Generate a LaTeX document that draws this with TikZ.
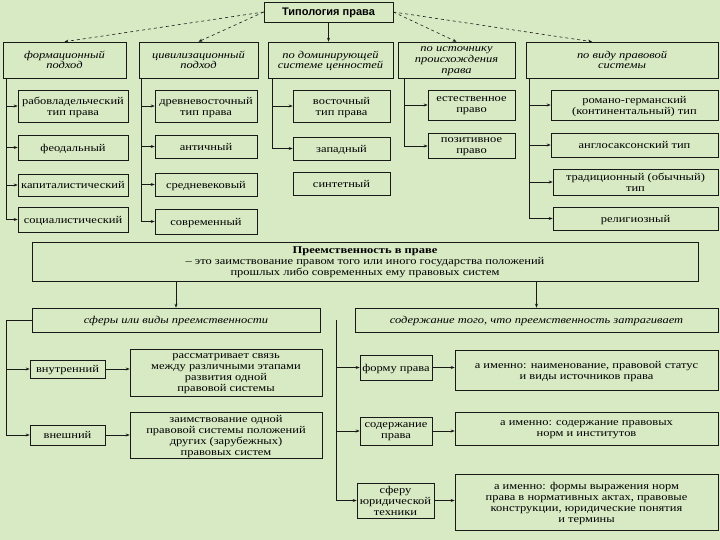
\documentclass[tikz,border=0pt]{standalone}
\usepackage{fontspec}
\setmainfont[FakeStretch=1.2]{Liberation Serif}
\setsansfont{Liberation Sans}
\usetikzlibrary{arrows.meta}
\definecolor{bg}{RGB}{216,234,196}
\definecolor{ink}{RGB}{25,25,25}
\begin{document}
\begin{tikzpicture}[
  x=1pt, y=-1pt, line width=0.6pt, draw=ink,
  >={Stealth[length=4pt,width=3pt]},
  bx/.style 2 args={draw=ink, align=center, inner sep=1pt, text depth=0pt, minimum width=#1, minimum height=#2, font=\fontsize{10.4}{11}\selectfont},
  hdr/.style 2 args={bx={#1}{#2}, font=\fontsize{10.4}{10.6}\selectfont\itshape},
  ttl/.style={draw=ink, text depth=0pt, minimum width=129, minimum height=20, font=\sffamily\bfseries\fontsize{11}{12}\selectfont}
]
  \fill[bg] (0,0) rectangle (720,540);
  \useasboundingbox (0,0) rectangle (720,540);

  \node[ttl] (tip) at (328.5,12) {Типология права};
  \node[hdr={123}{36}] (form) at (64.5,60) {формационный\\подход};
  \node[hdr={119}{36}] (civ) at (198.5,60) {цивилизационный\\подход};
  \node[hdr={125}{36}] (dom) at (330.5,60) {по доминирующей\\системе ценностей};
  \node[hdr={117}{36}] (ist) at (456.5,60) {по источнику\\происхождения\\права};
  \node[hdr={192}{36}] (vid) at (622,60) {по виду правовой\\системы};
  \draw[->, dashed] (tip.west) -- (form.north);
  \draw[->, dashed] (tip.west) -- (civ.north);
  \draw[->] (tip.south) -- (tip.south |- dom.north);
  \draw[->, dashed] (tip.east) -- (ist.north);
  \draw[->, dashed] (tip.east) -- ([xshift=-30pt]vid.north);

  \node[bx={110}{32}] (rab) at (73,106) {рабовладельческий\\тип права};
  \node[bx={110}{25}] (feo) at (73,147.5) {феодальный};
  \node[bx={110}{22}] (kap) at (73,185) {капиталистический};
  \node[bx={110}{25}] (soc) at (73,219.5) {социалистический};
  \coordinate (bf) at ([xshift=4pt]form.south west);
  \foreach \n in {rab,feo,kap,soc} \draw[->] (bf) |- (\n.west);

  \node[bx={102}{32}] (drev) at (206,106) {древневосточный\\тип права};
  \node[bx={102}{23}] (ant) at (206,146.5) {античный};
  \node[bx={102}{23}] (sred) at (206,184.5) {средневековый};
  \node[bx={102}{25}] (sovr) at (206,221.5) {современный};
  \coordinate (bc) at ([xshift=3pt]civ.south west);
  \foreach \n in {drev,ant,sred,sovr} \draw[->] (bc) |- (\n.west);

  \node[bx={97}{32}] (vost) at (341.5,106) {восточный\\тип права};
  \node[bx={97}{23}] (zap) at (341.5,148.5) {западный};
  \node[bx={97}{23}] (sint) at (341.5,183.5) {синтетный};
  \coordinate (bd) at ([xshift=5pt]dom.south west);
  \foreach \n in {vost,zap} \draw[->] (bd) |- (\n.west);

  \node[bx={87}{30}] (est) at (471.5,105) {естественное\\право};
  \node[bx={87}{25}] (poz) at (471.5,146) {позитивное\\право};
  \coordinate (bi) at ([xshift=7pt]ist.south west);
  \foreach \n in {est,poz} \draw[->] (bi) |- (\n.west);

  \node[bx={167}{30}] (rom) at (634.5,105) {романо-германский\\(континентальный) тип};
  \node[bx={167}{24}] (angl) at (634.5,145) {англосаксонский тип};
  \node[bx={165}{26}] (trad) at (635.5,182) {традиционный (обычный)\\тип};
  \node[bx={165}{23}] (rel) at (635.5,218.5) {религиозный};
  \coordinate (bv) at ([xshift=4pt]vid.south west);
  \foreach \n in {rom,angl,trad,rel} \draw[->] (bv) |- (\n.west);

  \node[bx={666}{39}] (pr) at (365,261.5) {\textbf{Преемственность в праве}\\– это заимствование правом того или иного государства положений\\прошлых либо современных ему правовых систем};
  \node[hdr={288}{24}] (sf) at (176,320) {сферы или виды преемственности};
  \node[hdr={363}{24}] (sd) at (536.5,320) {содержание того, что преемственность затрагивает};
  \draw[->] (pr.south -| sf.north) -- (sf.north);
  \draw[->] (pr.south -| sd.north) -- (sd.north);

  \node[bx={75}{18}] (vn) at (67.5,369) {внутренний};
  \node[bx={75}{20}] (vs) at (67.5,435) {внешний};
  \node[bx={192}{47}] (ras) at (226,372.5) {рассматривает связь\\между различными этапами\\развития одной\\правовой системы};
  \node[bx={192}{46}] (zaim) at (226,435) {заимствование одной\\правовой системы положений\\других (зарубежных)\\правовых систем};
  \coordinate (lb) at ([xshift=-25pt]sf.west);
  \draw (sf.west) -- (lb);
  \draw[->] (lb) |- (vn.west);
  \draw[->] (lb) |- (vs.west);
  \draw[->] (vn.east) -- (vn.east -| ras.west);
  \draw[->] (vs.east) -- (vs.east -| zaim.west);

  \node[bx={72}{25}] (fp) at (396,367.5) {форму права};
  \node[bx={72}{28}] (cp) at (396,431) {содержание\\права};
  \node[bx={77}{35}] (tj) at (395.5,500.5) {сферу\\юридической\\техники};
  \node[bx={263}{40}] (a1) at (586.5,370) {а именно: наименование, правовой статус\\и виды источников права};
  \node[bx={263}{33}] (a2) at (586.5,428.5) {а именно: содержание правовых\\норм и институтов};
  \node[bx={263}{56}] (a3) at (586.5,502) {а именно: формы выражения норм\\права в нормативных актах, правовые\\конструкции, юридические понятия\\и термины};
  \coordinate (rb) at ([xshift=-18pt]sd.west);
  \foreach \n in {fp,cp,tj} \draw[->] (rb) |- (\n.west);
  \draw[->] (fp.east) -- (fp.east -| a1.west);
  \draw[->] (cp.east) -- (cp.east -| a2.west);
  \draw[->] (tj.east) -- (tj.east -| a3.west);
\end{tikzpicture}
\end{document}
